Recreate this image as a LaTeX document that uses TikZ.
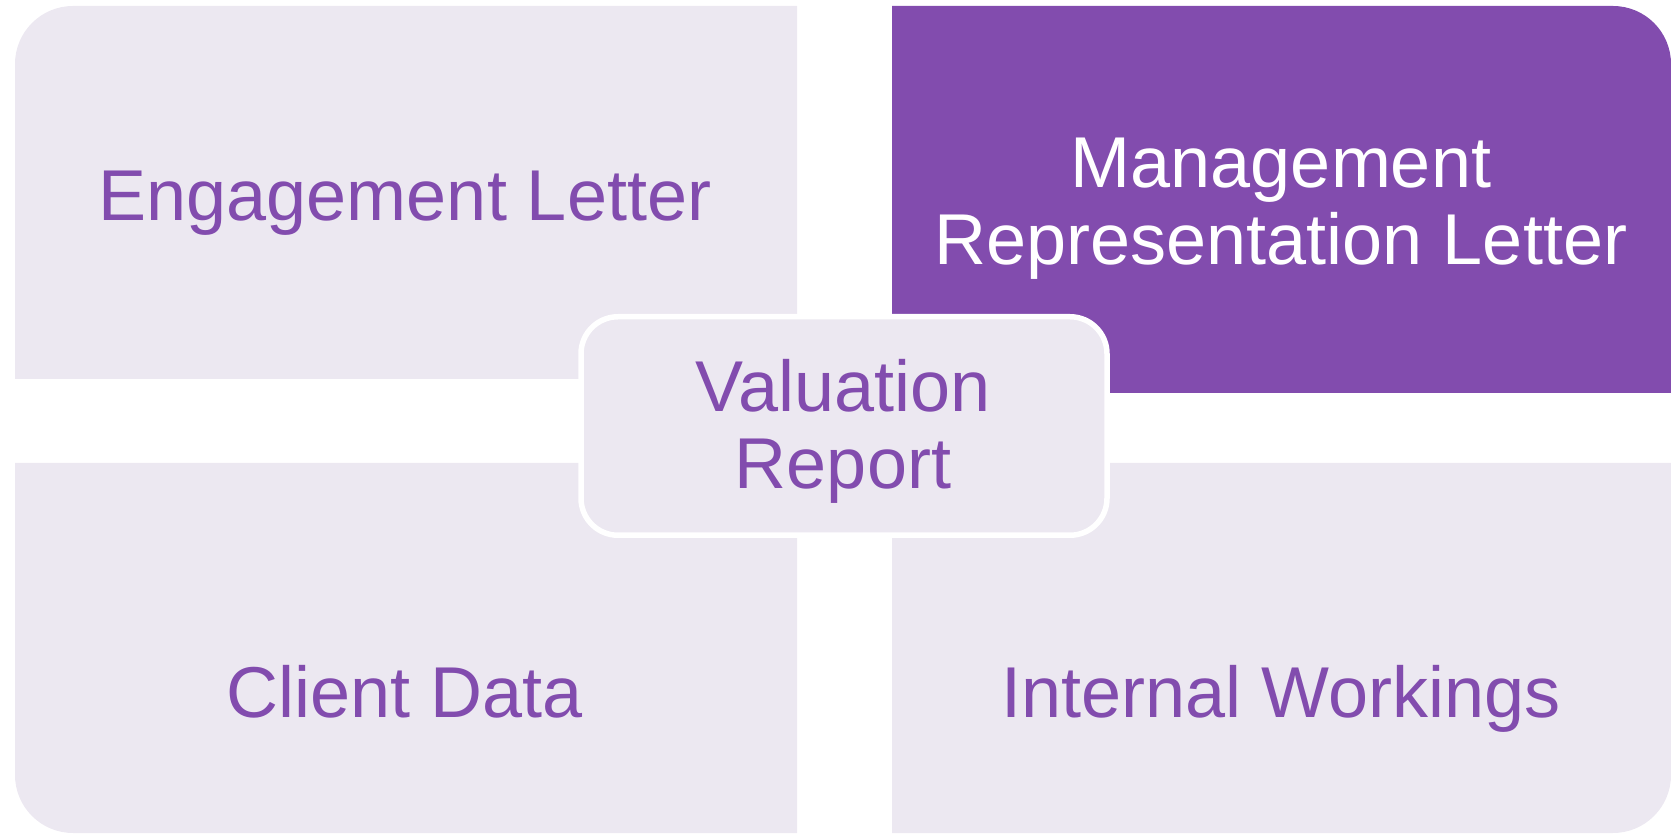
\documentclass[tikz,border=0pt]{standalone}
\usepackage{fontspec}
\setmainfont{Liberation Sans}
\definecolor{lav}{RGB}{236,232,241}
\definecolor{purp}{RGB}{130,76,174}
\tikzset{
  quad/.style={fill=lav},
  quadhi/.style={fill=purp},
  lbl/.style={font=\fontsize{72}{77}\selectfont, text=purp, inner sep=0pt, align=center, anchor=base},
  lblw/.style={lbl, text=white},
  centerbox/.style={draw=white, line width=5.5pt, fill=lav, rounded corners=37pt,
    minimum width=526pt, minimum height=218.5pt, inner sep=0pt}
}
\begin{document}
\begin{tikzpicture}[x=1pt,y=1pt]
\useasboundingbox (0,0) rectangle (1671,833);
% top-left
\path[quad] (15,454) -- (15,769) arc[start angle=180,end angle=90,radius=58] -- (797,827) -- (797,454) -- cycle;
% top-right
\path[quadhi] (892,440) -- (892,827) -- (1613,827) arc[start angle=90,end angle=0,radius=58] -- (1671,440) -- cycle;
% bottom-left
\path[quad] (15,370) -- (15,58) arc[start angle=180,end angle=270,radius=58] -- (797,0) -- (797,370) -- cycle;
% bottom-right
\path[quad] (892,370) -- (1671,370) -- (1671,58) arc[start angle=0,end angle=-90,radius=58] -- (892,0) -- cycle;
% center
\node[centerbox] (vr) at (844,407) {};
% labels
\node[lbl] (el) at (405,612) {Engagement Letter};
\node[lblw] (mrl) at (1281,568) {Management\\Representation Letter};
\node[lbl] (vrt) at (843,344) {Valuation\\Report};
\node[lbl] (cd) at (405,115) {Client Data};
\node[lbl] (iw) at (1281,115) {Internal Workings};
\end{tikzpicture}
\end{document}
